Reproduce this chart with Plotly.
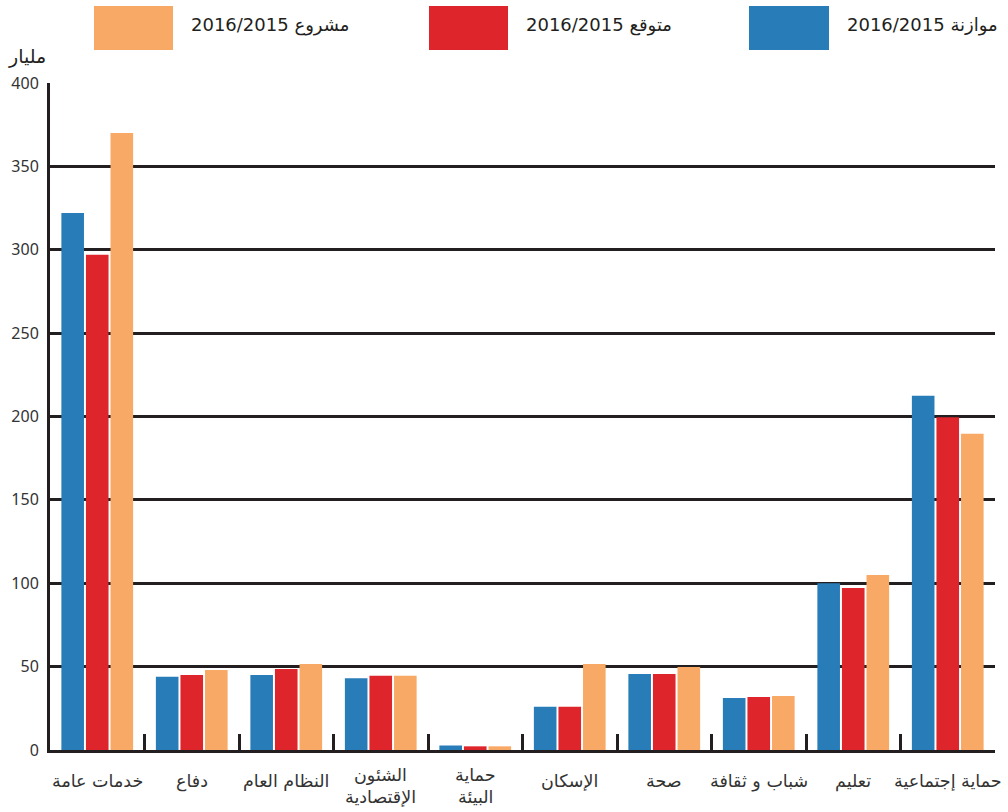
import plotly.graph_objects as go

# Categories (left to right) and series values, in billions
categories = [
    "خدمات عامة",
    "دفاع",
    "النظام العام",
    "الشئون الإقتصادية",
    "حماية البيئة",
    "الإسكان",
    "صحة",
    "شباب و ثقافة",
    "تعليم",
    "حماية إجتماعية",
]
# Category names as they are broken into lines under the axis
category_lines = [
    ["خدمات عامة"],
    ["دفاع"],
    ["النظام العام"],
    ["الشئون", "الإقتصادية"],
    ["حماية", "البيئة"],
    ["الإسكان"],
    ["صحة"],
    ["شباب و ثقافة"],
    ["تعليم"],
    ["حماية إجتماعية"],
]
budget_2015_2016 = [322, 44, 45, 43, 2.7, 26, 45.6, 31.2, 100, 212.5]
expected_2015_2016 = [297, 45, 48.6, 44.5, 2.2, 26, 45.6, 31.8, 97.2, 199.5]
draft_2015_2016 = [370, 48, 51.6, 44.5, 2.2, 51.6, 49.8, 32.4, 105, 189.6]

series_names = ["موازنة 2016/2015", "متوقع 2016/2015", "مشروع 2016/2015"]
series_colors = ["#287db8", "#de252c", "#f9a966"]
y_ticks = [0, 50, 100, 150, 200, 250, 300, 350, 400]
y_unit = "مليار"

INK = "#231f20"
TEXT = "#333333"
FONT = "Noto Sans Arabic, DejaVu Sans Condensed, DejaVu Sans, sans-serif"
LEGEND_FONT = "Liberation Sans Narrow, DejaVu Sans, sans-serif"
CAT_FONT = "DejaVu Sans, sans-serif"

W, H = 1008, 812
M_L, M_R, M_T, M_B = 50, 13, 83, 62
PW, PH = W - M_L - M_R, H - M_T - M_B


def px(x):
    return (x - M_L) / PW


def py(y):
    return (H - M_B - y) / PH


fig = go.Figure()
for name, vals, col in zip(series_names,
                           [budget_2015_2016, expected_2015_2016, draft_2015_2016],
                           series_colors):
    fig.add_trace(go.Bar(x=categories, y=vals, name=name,
                         marker=dict(color=col, line=dict(width=0)),
                         showlegend=False))

# Category labels under the axis, one annotation per text line
for cat, lines in zip(categories, category_lines):
    if len(lines) == 1:
        rows = [(lines[0], 781)]
    else:
        rows = [(lines[0], 775), (lines[1], 797)]
    for txt, ypix in rows:
        fig.add_annotation(xref="x", yref="paper", x=cat, y=py(ypix),
                           xanchor="center", yanchor="middle", showarrow=False,
                           text=txt, font=dict(family=CAT_FONT, size=17.5, color=TEXT))

# Legend drawn as large swatches across the top
legend_boxes = [(749, 829), (429, 508), (94, 173)]
for (x0, x1), name, col in zip(legend_boxes, series_names, series_colors):
    fig.add_shape(type="rect", xref="paper", yref="paper",
                  x0=px(x0), x1=px(x1), y0=py(50), y1=py(6),
                  fillcolor=col, line=dict(width=0))
    fig.add_annotation(xref="paper", yref="paper", x=px(x1 + 16), y=py(25),
                       xanchor="left", yanchor="middle", showarrow=False,
                       text=name, font=dict(family=LEGEND_FONT, size=18, color=INK))

fig.add_annotation(xref="paper", yref="paper", x=px(48), y=py(57),
                   xanchor="right", yanchor="middle", showarrow=False,
                   text=y_unit, font=dict(family=CAT_FONT, size=19, color=INK))

fig.update_layout(
    width=W, height=H,
    margin=dict(l=M_L, r=M_R, t=M_T, b=M_B, pad=0, autoexpand=False),
    paper_bgcolor="white", plot_bgcolor="white",
    barmode="group", bargap=0.22, bargroupgap=0.08,
    font=dict(family=FONT, color=INK),
)
fig.update_xaxes(
    type="category", range=[-0.5, 9.5], automargin=False,
    showline=True, linecolor=INK, linewidth=3,
    ticks="inside", tickson="boundaries", ticklen=16, tickwidth=3, tickcolor=INK,
    showgrid=False, showticklabels=False,
)
fig.update_yaxes(
    range=[0, 400], tickvals=y_ticks, ticktext=[str(v) for v in y_ticks],
    automargin=False,
    showline=True, linecolor=INK, linewidth=3,
    showgrid=True, gridcolor=INK, gridwidth=3, zeroline=False,
    ticks="", tickfont=dict(family=FONT, size=16, color=TEXT),
    ticklabelstandoff=5,
)

fig.write_html("out.html")
